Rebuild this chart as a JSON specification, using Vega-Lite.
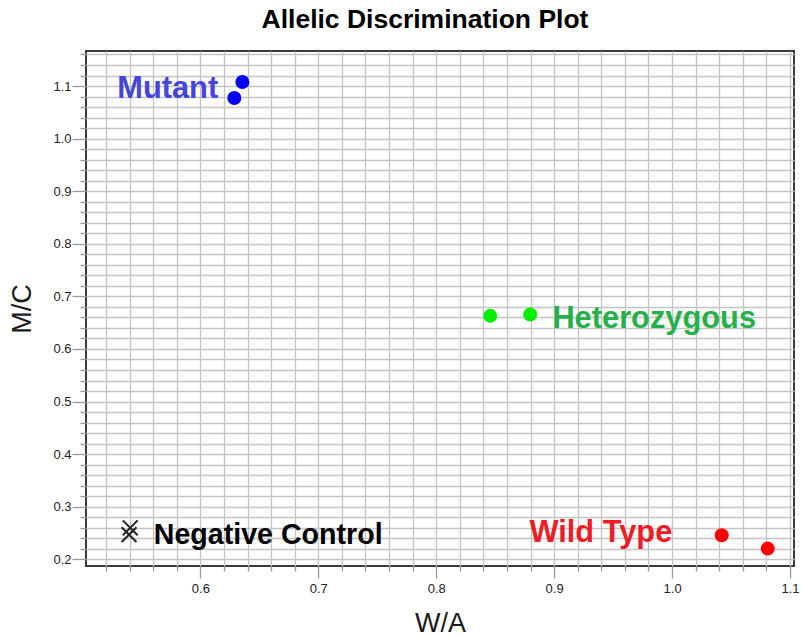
{
  "$schema": "https://vega.github.io/schema/vega-lite/v6.json",
  "autosize": {"type": "none"},
  "width": 708,
  "height": 515,
  "padding": {"left": 86, "top": 51, "right": 7, "bottom": 70},
  "background": "white",
  "title": {
    "text": "Allelic Discrimination Plot",
    "font": "Liberation Sans",
    "fontSize": 26.5,
    "fontWeight": "bold",
    "color": "#000000",
    "anchor": "middle",
    "offset": 15,
    "dx": -15
  },
  "config": {
    "view": {"stroke": "#3a3a3a", "strokeWidth": 2},
    "axis": {
      "labelFont": "Liberation Sans",
      "labelFontSize": 13,
      "labelColor": "#222222",
      "titleFont": "Liberation Sans",
      "titleFontWeight": "normal",
      "titleColor": "#1a1a1a",
      "domain": false,
      "gridColor": "#c4c4c4",
      "gridWidth": 1.3,
      "gridOpacity": 1,
      "tickColor": "#999999",
      "tickWidth": 1.3
    }
  },
  "datasets": {
    "points": [
      {"W_A": 0.6356, "M_C": 1.1076, "genotype": "Mutant"},
      {"W_A": 0.6288, "M_C": 1.0772, "genotype": "Mutant"},
      {"W_A": 0.8458, "M_C": 0.6630, "genotype": "Heterozygous"},
      {"W_A": 0.8797, "M_C": 0.6656, "genotype": "Heterozygous"},
      {"W_A": 1.0421, "M_C": 0.2457, "genotype": "Wild Type"},
      {"W_A": 1.0811, "M_C": 0.2204, "genotype": "Wild Type"},
      {"W_A": 0.5405, "M_C": 0.2600, "genotype": "Negative Control"},
      {"W_A": 0.5395, "M_C": 0.2470, "genotype": "Negative Control"}
    ],
    "labels": [
      {"W_A": 0.5295, "M_C": 1.0772, "genotype": "Mutant"},
      {"W_A": 0.8985, "M_C": 0.6396, "genotype": "Heterozygous"},
      {"W_A": 0.8790, "M_C": 0.2329, "genotype": "Wild Type"},
      {"W_A": 0.5605, "M_C": 0.2299, "genotype": "Negative Control"}
    ]
  },
  "encoding": {
    "x": {
      "field": "W_A",
      "type": "quantitative",
      "title": "W/A",
      "scale": {"domain": [0.503, 1.1034], "nice": false, "zero": false},
      "axis": {
        "values": [0.52, 0.54, 0.56, 0.58, 0.6, 0.62, 0.64, 0.66, 0.68, 0.7, 0.72, 0.74, 0.76, 0.78, 0.8, 0.82, 0.84, 0.86, 0.88, 0.9, 0.92, 0.94, 0.96, 0.98, 1.0, 1.02, 1.04, 1.06, 1.08, 1.1],
        "labelExpr": "abs(datum.value*10 - round(datum.value*10)) < 0.01 ? format(datum.value, '.1f') : ''",
        "tickSize": {"condition": {"test": "abs(datum.value*10 - round(datum.value*10)) < 0.01", "value": 12}, "value": 5},
        "labelPadding": 4,
        "labelFlush": false,
        "labelOverlap": false,
        "titleFontSize": 27,
        "titlePadding": 15
      }
    },
    "y": {
      "field": "M_C",
      "type": "quantitative",
      "title": "M/C",
      "scale": {"domain": [0.1873, 1.1666], "nice": false, "zero": false},
      "axis": {
        "values": [0.2, 0.22, 0.24, 0.26, 0.28, 0.3, 0.32, 0.34, 0.36, 0.38, 0.4, 0.42, 0.44, 0.46, 0.48, 0.5, 0.52, 0.54, 0.56, 0.58, 0.6, 0.62, 0.64, 0.66, 0.68, 0.7, 0.72, 0.74, 0.76, 0.78, 0.8, 0.82, 0.84, 0.86, 0.88, 0.9, 0.92, 0.94, 0.96, 0.98, 1.0, 1.02, 1.04, 1.06, 1.08, 1.1, 1.12, 1.14, 1.16],
        "labelExpr": "abs(datum.value*10 - round(datum.value*10)) < 0.01 ? format(datum.value, '.1f') : ''",
        "tickSize": {"condition": {"test": "abs(datum.value*10 - round(datum.value*10)) < 0.01", "value": 14}, "value": 6},
        "labelPadding": 1,
        "labelFlush": false,
        "labelOverlap": false,
        "titleFontSize": 27,
        "titlePadding": 16
      }
    }
  },
  "layer": [
    {
      "data": {"name": "points"},
      "transform": [{"filter": "datum.genotype != 'Negative Control'"}],
      "mark": {"type": "point", "shape": "circle", "filled": true, "size": 196, "opacity": 1},
      "encoding": {
        "color": {
          "field": "genotype",
          "type": "nominal",
          "scale": {"domain": ["Mutant", "Heterozygous", "Wild Type"], "range": ["#0000ff", "#00ee00", "#ff0000"]},
          "legend": null
        }
      }
    },
    {
      "data": {"name": "points"},
      "transform": [{"filter": "datum.genotype == 'Negative Control'"}],
      "mark": {"type": "point", "shape": "M-1,-1L1,1M1,-1L-1,1", "filled": false, "size": 220, "strokeWidth": 2, "color": "#222222", "opacity": 1},
      "encoding": {}
    },
    {
      "data": {"name": "labels"},
      "transform": [{"filter": "datum.genotype != 'Negative Control'"}],
      "mark": {"type": "text", "align": "left", "baseline": "alphabetic", "font": "Liberation Sans", "fontWeight": "bold", "fontSize": 30.8},
      "encoding": {
        "text": {"field": "genotype"},
        "color": {
          "field": "genotype",
          "type": "nominal",
          "scale": {"domain": ["Mutant", "Heterozygous", "Wild Type"], "range": ["#4545dc", "#25b04a", "#ee1c25"]},
          "legend": null
        }
      }
    },
    {
      "data": {"name": "labels"},
      "transform": [{"filter": "datum.genotype == 'Negative Control'"}],
      "mark": {"type": "text", "align": "left", "baseline": "alphabetic", "font": "Liberation Sans", "fontWeight": "bold", "fontSize": 28.6, "color": "#000000"},
      "encoding": {"text": {"field": "genotype"}}
    }
  ],
  "resolve": {"scale": {"color": "independent"}}
}
